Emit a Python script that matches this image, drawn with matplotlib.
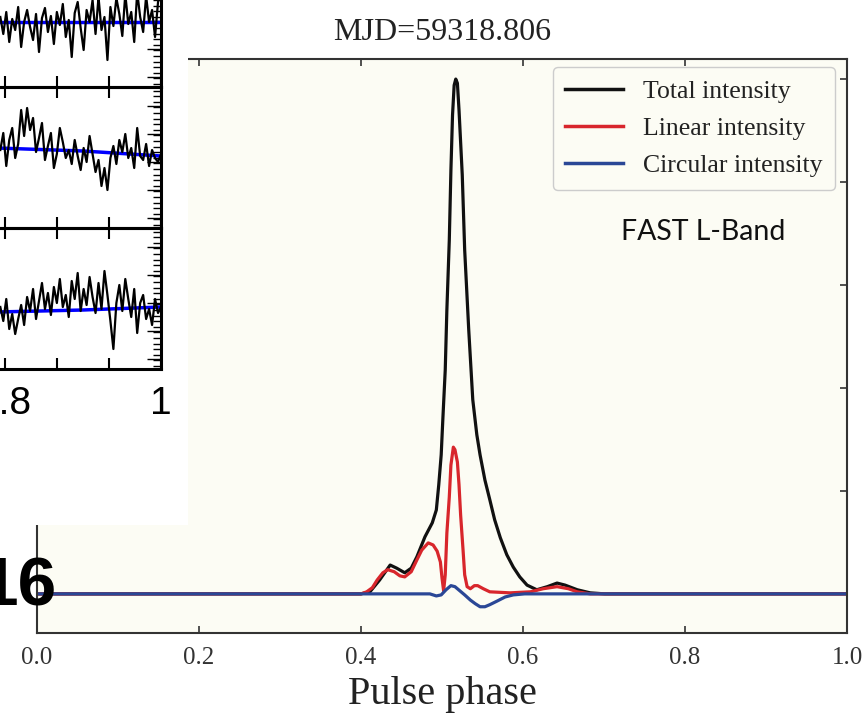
import numpy as np
import matplotlib
matplotlib.use("Agg")
import matplotlib.pyplot as plt
from matplotlib.patches import Rectangle

# main profile (phase, normalised intensity)
phase_total = [0.0, 0.400, 0.411, 0.423, 0.436, 0.444, 0.454, 0.462, 0.469, 0.479,
               0.488, 0.493, 0.496, 0.499, 0.501, 0.504, 0.506, 0.509, 0.511, 0.513,
               0.515, 0.517, 0.519, 0.521, 0.525, 0.528, 0.533, 0.538, 0.543, 0.547,
               0.553, 0.559, 0.565, 0.572, 0.580, 0.588, 0.596, 0.605, 0.617, 0.630,
               0.642, 0.652, 0.667, 0.683, 0.701, 1.0]
total = [0.0, 0.0, 0.004, 0.027, 0.056, 0.050, 0.041, 0.050, 0.072, 0.111,
         0.138, 0.163, 0.212, 0.270, 0.338, 0.435, 0.551, 0.687, 0.823, 0.930,
         0.988, 1.0, 0.992, 0.940, 0.814, 0.668, 0.513, 0.377, 0.309, 0.270,
         0.221, 0.183, 0.144, 0.109, 0.076, 0.052, 0.033, 0.017, 0.008, 0.014,
         0.021, 0.017, 0.008, 0.002, 0.0, 0.0]

phase_linear = [0.0, 0.400, 0.407, 0.414, 0.420, 0.427, 0.433, 0.441, 0.448, 0.454,
                0.462, 0.469, 0.475, 0.483, 0.489, 0.494, 0.498, 0.500, 0.502, 0.504,
                0.506, 0.509, 0.511, 0.514, 0.516, 0.519, 0.521, 0.523, 0.526, 0.528,
                0.531, 0.535, 0.540, 0.544, 0.551, 0.559, 0.584, 0.609, 0.625, 0.642,
                0.656, 0.667, 0.683, 1.0]
linear = [0.0, 0.0, 0.004, 0.012, 0.027, 0.041, 0.047, 0.043, 0.035, 0.033,
          0.043, 0.066, 0.085, 0.099, 0.095, 0.083, 0.062, 0.031, 0.006, 0.037,
          0.118, 0.188, 0.250, 0.285, 0.280, 0.256, 0.212, 0.153, 0.085, 0.037,
          0.014, 0.010, 0.016, 0.016, 0.010, 0.004, 0.002, 0.004, 0.010, 0.014,
          0.010, 0.004, 0.0, 0.0]

phase_circular = [0.0, 0.485, 0.493, 0.499, 0.505, 0.511, 0.516, 0.522, 0.528, 0.535,
                  0.541, 0.547, 0.553, 0.559, 0.568, 0.578, 0.588, 0.602, 1.0]
circular = [0.0, 0.0, -0.004, -0.002, 0.008, 0.016, 0.014, 0.006, -0.002, -0.012,
            -0.019, -0.025, -0.025, -0.021, -0.014, -0.006, -0.002, 0.0, 0.0]

labels = ["Total intensity", "Linear intensity", "Circular intensity"]
colors = ["#111111", "#d8262c", "#2a4796"]

# pasted inset panels (noisy black traces + blue fits), heights in px above panel bottom
inset_noise_1 = [70, 53, 75, 45, 68, 57, 80, 40, 65, 77, 60, 47, 73, 35, 69, 79, 55, 71,
                 43, 75, 62, 83, 50, 67, 30, 74, 85, 59, 37, 77, 65, 87, 53, 90, 57, 70,
                 27, 80, 61, 89, 73, 51, 93, 63, 75, 45, 95, 70, 55, 91, 65, 77, 50, 85, 95]
inset_noise_2 = [78, 95, 62, 88, 100, 70, 84, 118, 92, 120, 98, 110, 76, 90, 105, 68, 82,
                 95, 60, 74, 100, 86, 70, 78, 64, 88, 72, 58, 80, 66, 92, 74, 56, 68, 42,
                 60, 38, 70, 82, 64, 88, 76, 94, 70, 80, 60, 100, 72, 68, 84, 62, 78, 70,
                 66, 74]
inset_noise_3 = [62, 48, 70, 40, 55, 35, 50, 64, 44, 72, 58, 80, 50, 68, 86, 60, 76, 54,
                 82, 66, 90, 62, 74, 52, 88, 70, 96, 58, 80, 64, 92, 72, 56, 86, 60, 98,
                 74, 48, 20, 66, 84, 58, 90, 70, 52, 80, 36, 66, 74, 50, 60, 44, 70, 56, 62]
inset_blue_x = [0.79, 0.9, 1.0]
inset_blue = [[65, 65, 65], [80, 77, 72], [57, 59, 62]]

W, H = 864, 714
fig = plt.figure(figsize=(W / 100, H / 100), dpi=100)
serif = "Liberation Serif"

# main axes
x0, x1, ytop, ybot = 37, 847, 59, 633
ax = fig.add_axes([x0 / W, 1 - ybot / H, (x1 - x0) / W, (ybot - ytop) / H])
ax.set_facecolor("#fcfcf4")
ax.plot(phase_total, total, color=colors[0], lw=2.3, label=labels[0])
ax.plot(phase_linear, linear, color=colors[1], lw=2.3, label=labels[1])
ax.plot(phase_circular, circular, color=colors[2], lw=2.3, label=labels[2])
ax.set_xlim(0, 1)
ax.set_ylim(-0.076, 1.039)
ax.set_xticks([0, 0.2, 0.4, 0.6, 0.8, 1.0])
ax.set_xticklabels(["0.0", "0.2", "0.4", "0.6", "0.8", "1.0"])
ax.set_yticks([0, 0.2, 0.4, 0.6, 0.8, 1.0])
ax.set_yticklabels([])
ax.tick_params(direction="in", top=True, right=True, length=5, width=1.2,
               colors="#333333", labelsize=18, pad=10)
for lab in ax.get_xticklabels():
    lab.set_fontfamily(serif)
for s in ax.spines.values():
    s.set_color("#333333")
    s.set_linewidth(1.5)
ax.set_title("MJD=59318.806", fontfamily=serif, fontsize=23, color="#222222", pad=14)
ax.set_xlabel("Pulse phase", fontfamily=serif, fontsize=29, color="#222222", labelpad=5)
leg = ax.legend(loc="upper right", bbox_to_anchor=(0.985, 0.986), borderaxespad=0,
                prop={"family": serif, "size": 18.5}, handlelength=2.25, handletextpad=0.75,
                labelspacing=0.55, borderpad=0.5, fancybox=True, framealpha=1,
                facecolor="#fcfcf4", edgecolor="#cccccc")
for t in leg.get_texts():
    t.set_color("#222222")
for ln in leg.get_lines():
    ln.set_linewidth(2.5)
ax.text(0.822, 0.698, "FAST L-Band", transform=ax.transAxes, fontfamily="Lato",
        fontsize=20.5, ha="center", va="center", color="#111111")

# white block of the pasted figure
fig.add_artist(Rectangle((0, 1 - 525 / H), 188 / W, 525 / H, transform=fig.transFigure,
                         facecolor="white", edgecolor="none", zorder=5))

borders = [-54, 87, 228, 369]
panel_left = -60
xr = 161
xmin = 1.0 - (xr - panel_left) * 0.2 / 156
noise = [inset_noise_1, inset_noise_2, inset_noise_3]
for i in range(3):
    top, bot = borders[i], borders[i + 1]
    pax = fig.add_axes([panel_left / W, 1 - bot / H, (xr - panel_left) / W, (bot - top) / H],
                       zorder=6)
    pax.set_facecolor("none")
    xs = np.linspace(0.794, 1.0, len(noise[i]))
    pax.plot(inset_blue_x, inset_blue[i], color="#0000ff", lw=2.5)
    pax.plot(xs, noise[i], color="black", lw=1.6)
    pax.set_xlim(xmin, 1.0)
    pax.set_ylim(0, bot - top)
    pax.set_xticks([0.8, 0.8667, 0.9333, 1.0])
    pax.set_yticks(np.arange(10, 141, 28))
    pax.set_yticks(np.arange(3, 141, 5.6), minor=True)
    pax.tick_params(axis="x", direction="in", top=True, bottom=True, length=8, width=1.5)
    pax.tick_params(axis="y", which="both", direction="in", left=False, right=True,
                    labelleft=False, width=1.0)
    pax.tick_params(axis="y", which="major", length=10)
    pax.tick_params(axis="y", which="minor", length=6)
    for s in pax.spines.values():
        s.set_linewidth(2.2)
    if i == 2:
        pax.set_xticklabels(["0.8", "", "", "1"], fontfamily="Liberation Sans", fontsize=28)
        pax.tick_params(axis="x", pad=12)
    else:
        pax.set_xticklabels([])

fig.text(-20 / W, 1 - 605 / H, "16", fontfamily="Liberation Sans", fontweight="bold",
         fontsize=50, ha="left", va="baseline", color="black", zorder=10)

fig.savefig("out.png", dpi=100)
